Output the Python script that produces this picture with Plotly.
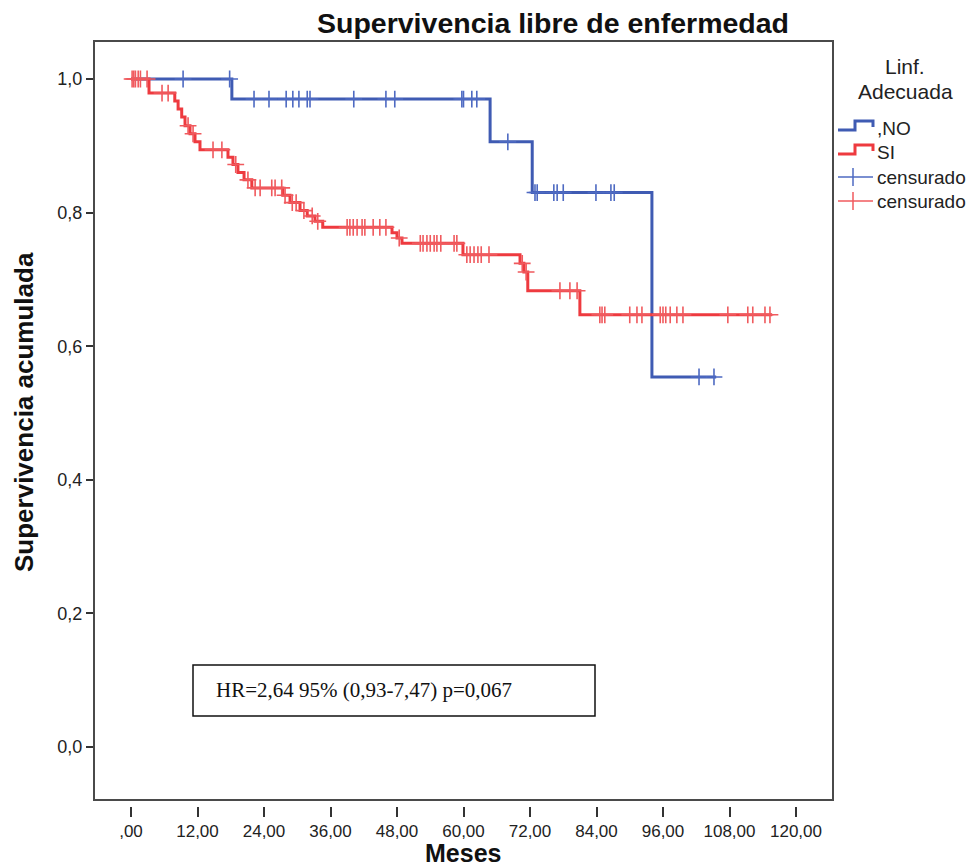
import numpy as np
import plotly.graph_objects as go

# ---------------- data (months, cumulative survival) ----------------
blue_event_t = [18.2, 64.8, 72.4, 94.0]
blue_event_s = [0.970, 0.906, 0.830, 0.554]
blue_end_t = 105.6
blue_censor_t = [9.4, 17.8, 22.2, 24.9, 28.0, 29.2, 30.3, 31.8, 32.3, 40.2, 46.0,
                 47.6, 59.7, 60.0, 61.5, 62.4, 68.0, 72.9, 73.3, 76.3, 76.9, 78.0,
                 83.9, 86.6, 87.2, 102.5, 105.2]

red_event_t = [3.25, 7.9, 8.5, 9.15, 9.75, 10.65, 11.55, 12.45, 17.5, 18.4, 19.3,
               20.4, 21.8, 27.4, 28.7, 30.5, 31.8, 33.2, 34.6, 47.1, 48.0, 48.9,
               59.9, 70.2, 70.9, 71.6, 81.0]
red_event_s = [0.979, 0.967, 0.955, 0.943, 0.930, 0.918, 0.906, 0.894, 0.883, 0.872,
               0.860, 0.849, 0.837, 0.826, 0.815, 0.803, 0.795, 0.787, 0.778, 0.770,
               0.762, 0.754, 0.737, 0.724, 0.711, 0.683, 0.647]
red_end_t = 115.7
red_censor_t = [0.2, 0.5, 0.8, 1.3, 1.7, 2.9, 5.6, 6.7, 10.3, 11.2, 14.8, 16.4, 18.9,
                21.1, 22.4, 23.3, 25.4, 26.0, 27.2, 27.8, 29.1, 29.8, 31.2, 32.7,
                33.7, 39.0, 39.5, 40.1, 40.8, 41.7, 42.2, 43.7, 44.9, 46.0, 48.4,
                52.2, 52.7, 53.4, 54.0, 54.7, 55.2, 55.9, 58.3, 58.8, 60.6, 61.2,
                61.9, 62.6, 63.2, 64.6, 70.6, 71.3, 77.4, 79.2, 80.5, 84.6, 85.0,
                85.5, 90.0, 91.3, 92.2, 95.5, 96.0, 96.5, 97.3, 98.5, 99.6, 107.7,
                111.3, 112.2, 114.4, 115.3]

x_tickvals = [0, 12, 24, 36, 48, 60, 72, 84, 96, 108, 120]
x_ticktext = [",00", "12,00", "24,00", "36,00", "48,00", "60,00", "72,00",
              "84,00", "96,00", "108,00", "120,00"]
y_tickvals = [0.0, 0.2, 0.4, 0.6, 0.8, 1.0]
y_ticktext = ["0,0", "0,2", "0,4", "0,6", "0,8", "1,0"]

title_text = "Supervivencia libre de enfermedad"
x_title = "Meses"
y_title = "Supervivencia acumulada"
legend_title = ["Linf.", "Adecuada"]
legend_labels = [",NO", "SI", "censurado", "censurado"]
hr_text = "HR=2,64 95% (0,93-7,47) p=0,067"

BLUE = "#3F5BB3"
RED = "#EE3A3F"
BLUE_C = "#4E6AC2"
RED_C = "#F05A5E"

# ---------------- layout geometry (page has 8px body margin) ----------------
OFF = 8
W, H = 975 - OFF, 866 - OFF
BOX_L, BOX_T, BOX_R, BOX_B = 94, 41, 833, 800   # reference pixel coords
XAX_POS = 806                                    # x-axis (tick start) in reference px
ML = BOX_L - OFF
MT = BOX_T - OFF
MR = W - (BOX_R - OFF)
MB = H - (XAX_POS - OFF)
PW = W - ML - MR
PH = H - MT - MB
y_dom0 = (XAX_POS - BOX_B) / PH


def px2x(px):
    return (px - OFF - ML) / PW


def py2y(py):
    return (MT + PH - (py - OFF)) / PH


def step_xy(ev_t, ev_s, end_t):
    xs = [0.0] + list(ev_t) + [end_t]
    ys = [1.0] + list(ev_s) + [ev_s[-1]]
    return xs, ys


def surv_at(ts, ev_t, ev_s):
    ev_t = np.asarray(ev_t)
    ev_s = np.asarray(ev_s)
    out = []
    for t in ts:
        idx = np.searchsorted(ev_t, t, side="right") - 1
        out.append(1.0 if idx < 0 else float(ev_s[idx]))
    return out


fig = go.Figure()

bx, by = step_xy(blue_event_t, blue_event_s, blue_end_t)
rx, ry = step_xy(red_event_t, red_event_s, red_end_t)

fig.add_trace(go.Scatter(x=bx, y=by, mode="lines", line=dict(color=BLUE, width=3, shape="hv"),
                         name=",NO", showlegend=False, hoverinfo="skip"))
fig.add_trace(go.Scatter(x=rx, y=ry, mode="lines", line=dict(color=RED, width=3, shape="hv"),
                         name="SI", showlegend=False, hoverinfo="skip"))
fig.add_trace(go.Scatter(x=blue_censor_t, y=surv_at(blue_censor_t, blue_event_t, blue_event_s),
                         mode="markers",
                         marker=dict(symbol="cross-thin", size=12, line=dict(color=BLUE_C, width=1.6)),
                         showlegend=False, hoverinfo="skip"))
fig.add_trace(go.Scatter(x=red_censor_t, y=surv_at(red_censor_t, red_event_t, red_event_s),
                         mode="markers",
                         marker=dict(symbol="cross-thin", size=12, line=dict(color=RED_C, width=1.6)),
                         showlegend=False, hoverinfo="skip"))

# axis value ranges matching reference pixel mapping (0 months at px 131, 66.5 px / 12 months;
# survival 1.0 at px 79, 0.0 at px 747)
x_left_val = (BOX_L - 131) * 12 / 66.5
x_right_val = (BOX_R - 131) * 12 / 66.5
y_top_val = 1 + (79 - BOX_T) / 668
y_bot_val = (747 - BOX_B) / 668

FONT = "Liberation Sans, Arial, sans-serif"

fig.update_layout(
    width=W, height=H,
    margin=dict(l=ML, r=MR, t=MT, b=MB, autoexpand=False),
    paper_bgcolor="white", plot_bgcolor="white",
    font=dict(family=FONT, color="#222222"),
    xaxis=dict(range=[x_left_val, x_right_val], tickvals=x_tickvals, ticktext=x_ticktext,
               ticks="outside", ticklen=10, tickwidth=2, tickcolor="#333333",
               showline=False, showgrid=False, zeroline=False,
               anchor="free", position=0,
               tickfont=dict(size=17, color="#222222", family=FONT)),
    yaxis=dict(range=[y_bot_val, y_top_val], domain=[y_dom0, 1], tickvals=y_tickvals,
               ticktext=y_ticktext, ticks="outside", ticklen=7, tickwidth=2,
               tickcolor="#333333", showline=False, showgrid=False, zeroline=False,
               tickfont=dict(size=18, color="#222222", family=FONT)),
)

# plot box
fig.add_shape(type="rect", xref="x domain", yref="y domain", x0=0, x1=1, y0=0, y1=1,
              line=dict(color="#4a4a4a", width=2), layer="above")

annotations = []
annotations.append(dict(text="<b>%s</b>" % title_text, x=px2x(553), y=py2y(23),
                        xref="paper", yref="paper", showarrow=False,
                        xanchor="center", yanchor="middle",
                        font=dict(size=28.5, family=FONT, color="#111111")))
annotations.append(dict(text="<b>%s</b>" % x_title, x=px2x(463), y=py2y(853),
                        xref="paper", yref="paper", showarrow=False,
                        xanchor="center", yanchor="middle",
                        font=dict(size=25, family=FONT, color="#111111")))
annotations.append(dict(text="<b>%s</b>" % y_title, x=px2x(24), y=py2y(412),
                        xref="paper", yref="paper", showarrow=False, textangle=-90,
                        xanchor="center", yanchor="middle",
                        font=dict(size=26, family=FONT, color="#111111")))

# HR box
fig.add_shape(type="rect", xref="paper", yref="paper",
              x0=px2x(193), x1=px2x(595), y0=py2y(716), y1=py2y(665),
              line=dict(color="#111111", width=1.5), fillcolor="white")
annotations.append(dict(text=hr_text, x=px2x(214), y=py2y(690), xref="paper", yref="paper",
                        showarrow=False, xanchor="left", yanchor="middle",
                        font=dict(size=21, family="Liberation Serif, Times New Roman, serif",
                                  color="#111111")))

# legend (drawn)
annotations.append(dict(text=legend_title[0], x=px2x(905), y=py2y(66), xref="paper", yref="paper",
                        showarrow=False, xanchor="center", yanchor="middle",
                        font=dict(size=21, family=FONT, color="#222222")))
annotations.append(dict(text=legend_title[1], x=px2x(905), y=py2y(91), xref="paper", yref="paper",
                        showarrow=False, xanchor="center", yanchor="middle",
                        font=dict(size=21, family=FONT, color="#222222")))
legend_y = [128, 152, 177, 201]
for lab, yy in zip(legend_labels, legend_y):
    annotations.append(dict(text=lab, x=px2x(875), y=py2y(yy), xref="paper", yref="paper",
                            showarrow=False, xanchor="left", yanchor="middle",
                            font=dict(size=19, family=FONT, color="#222222")))


def step_icon(y0, color):
    pts = [(838, y0 + 2), (855, y0 + 2), (855, y0 - 7), (873, y0 - 7), (873, y0 - 1)]
    path = "M " + " L ".join("%f,%f" % (px2x(a), py2y(b)) for a, b in pts)
    fig.add_shape(type="path", xref="paper", yref="paper", path=path,
                  line=dict(color=color, width=3))


step_icon(128, BLUE)
step_icon(152, RED)
for yy, col in [(177, BLUE_C), (201, RED_C)]:
    fig.add_shape(type="line", xref="paper", yref="paper", x0=px2x(838), x1=px2x(873),
                  y0=py2y(yy), y1=py2y(yy), line=dict(color=col, width=1.5))
    fig.add_shape(type="line", xref="paper", yref="paper", x0=px2x(853), x1=px2x(853),
                  y0=py2y(yy - 9), y1=py2y(yy + 9), line=dict(color=col, width=1.5))

fig.update_layout(annotations=annotations)
fig.write_html("out.html")
